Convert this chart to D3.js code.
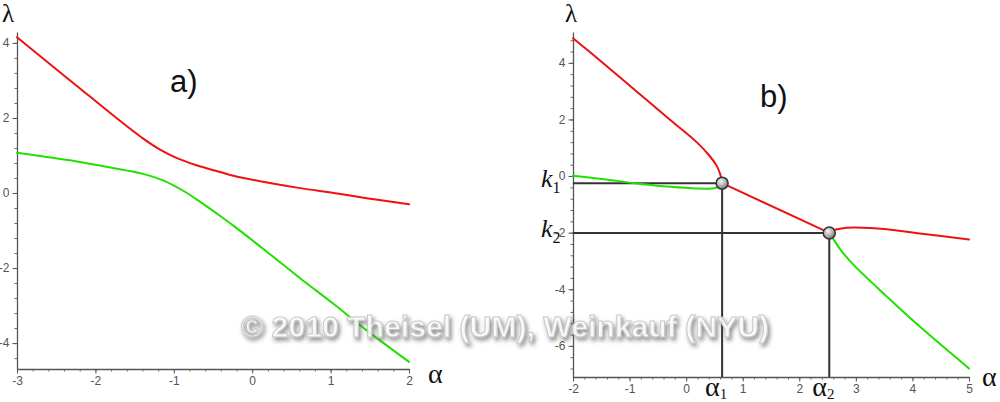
<!DOCTYPE html>
<html><head><meta charset="utf-8">
<script src="https://cdn.jsdelivr.net/npm/d3@7"></script>
<style>
html,body{margin:0;padding:0;background:#fff;}
svg{display:block;}
.tick text{font-family:Arial,"Liberation Sans",sans-serif;font-size:12px;fill:#555;}
</style></head>
<body>
<svg id="chart" width="1000" height="402"></svg>
<script>
// ---------- Panel a data ----------
const aRedAlpha   = [-3, -2.66, -2.24, -1.81, -1.39, -1.17, -0.96, -0.71, -0.41, -0.24, 0.19, 0.61, 1.04, 1.46, 2.0];
const aRedLambda  = [4.15, 3.57, 2.86, 2.13, 1.45, 1.15, 0.93, 0.74, 0.56, 0.46, 0.28, 0.13, 0.0, -0.14, -0.30];
const aGreenAlpha = [-3, -2.66, -2.24, -1.81, -1.39, -1.13, -0.88, -0.71, -0.45, -0.24, 0.19, 0.61, 1.04, 1.46, 2.0];
const aGreenLambda= [1.07, 0.97, 0.84, 0.68, 0.51, 0.33, 0.06, -0.17, -0.55, -0.87, -1.57, -2.27, -2.96, -3.66, -4.50];
const aXTicks = [-3, -2, -1, 0, 1, 2];
const aYTicks = [-4, -2, 0, 2, 4];

// ---------- Panel b data ----------
const bRedLeftAlpha   = [-2, -1.46, -0.87, -0.28, 0.19, 0.42, 0.54, 0.60, 0.636];
const bRedLeftLambda  = [4.87, 3.98, 2.98, 1.98, 1.19, 0.70, 0.36, 0.08, -0.25];
const bRedMidAlpha    = [0.636, 2.53];
const bRedMidLambda   = [-0.25, -2.01];
const bRedRightAlpha  = [2.53, 2.60, 2.72, 2.96, 3.55, 4.13, 5.0];
const bRedRightLambda = [-2.01, -1.92, -1.86, -1.82, -1.88, -2.03, -2.24];
const bGreenLeftAlpha  = [-2, -1.46, -0.87, -0.28, 0.19, 0.45, 0.57, 0.636];
const bGreenLeftLambda = [0.01, -0.11, -0.26, -0.38, -0.44, -0.44, -0.39, -0.25];
const bGreenRightAlpha  = [2.53, 2.60, 2.72, 2.96, 3.55, 4.13, 5.0];
const bGreenRightLambda = [-2.01, -2.22, -2.58, -3.14, -4.26, -5.32, -6.80];
const bPointAlpha  = [0.636, 2.53];
const bPointLambda = [-0.25, -2.01];
const bPointAlphaLabels = ["1", "2"];
const bPointLambdaLabels = ["1", "2"];
const bXTicks = [-2, -1, 0, 1, 2, 3, 4, 5];
const bYTicks = [-6, -4, -2, 0, 2, 4];

const RED = "#ee1111", GREEN = "#22e000";
const svg = d3.select("#chart");

const defs = svg.append("defs");
const grad = defs.append("radialGradient").attr("id","ball").attr("cx","40%").attr("cy","35%").attr("r","65%");
grad.append("stop").attr("offset","0%").attr("stop-color","#f4f4f4");
grad.append("stop").attr("offset","60%").attr("stop-color","#b0b0b0");
grad.append("stop").attr("offset","100%").attr("stop-color","#707070");
const flt = defs.append("filter").attr("id","shadow").attr("x","-10%").attr("y","-30%").attr("width","120%").attr("height","180%");
flt.append("feDropShadow").attr("dx",2).attr("dy",3).attr("stdDeviation",2.2).attr("flood-color","#555").attr("flood-opacity",0.75);

function zip(xs, ys){ return xs.map((x,i)=>[x, ys[i]]); }

function drawAxes(x, y, xTicks, yTicks, xMinorStep, yMinorStep){
  const [x0,x1] = x.domain(), [y0,y1] = y.domain();
  const xMinor = d3.range(Math.ceil(x0/xMinorStep-1e-9)*xMinorStep, x1+1e-9, xMinorStep);
  const yMinor = d3.range(Math.ceil(y0/yMinorStep-1e-9)*yMinorStep, y1+1e-9, yMinorStep);
  const yPix = y.range()[0];
  const xPix = x.range()[0];
  svg.append("g").attr("transform",`translate(0,${yPix})`)
    .call(d3.axisBottom(x).tickValues(xMinor).tickSize(2.5).tickFormat("").tickSizeOuter(0))
    .call(g=>g.select(".domain").remove())
    .call(g=>g.selectAll("line").attr("stroke","#666"));
  svg.append("g").attr("transform",`translate(${xPix},0)`)
    .call(d3.axisLeft(y).tickValues(yMinor).tickSize(2.5).tickFormat("").tickSizeOuter(0))
    .call(g=>g.select(".domain").remove())
    .call(g=>g.selectAll("line").attr("stroke","#666"));
  svg.append("g").attr("transform",`translate(0,${yPix})`)
    .call(d3.axisBottom(x).tickValues(xTicks).tickSize(4.5).tickPadding(3).tickSizeOuter(0).tickFormat(d=>String(d)))
    .call(g=>g.select(".domain").attr("stroke","#555").attr("stroke-width",1.3))
    .call(g=>g.selectAll("line").attr("stroke","#555"));
  svg.append("g").attr("transform",`translate(${xPix},0)`)
    .call(d3.axisLeft(y).tickValues(yTicks).tickSize(4.5).tickPadding(3).tickSizeOuter(0).tickFormat(d=>String(d)))
    .call(g=>g.select(".domain").attr("stroke","#555").attr("stroke-width",1.3))
    .call(g=>g.selectAll("line").attr("stroke","#555"));
}

function curve(x, y, pts, color){
  svg.append("path").datum(pts)
    .attr("fill","none").attr("stroke",color).attr("stroke-width",2)
    .attr("stroke-linejoin","round").attr("stroke-linecap","round")
    .attr("d", d3.line().x(d=>x(d[0])).y(d=>y(d[1])).curve(d3.curveCatmullRom.alpha(0.5)));
}

const serif = "'Liberation Serif','DejaVu Serif',serif";
const sans = "Arial,'Liberation Sans',sans-serif";

// ================= Panel a =================
const xa = d3.scaleLinear().domain([-3, 2]).range([17, 409]);
const ya = d3.scaleLinear().domain([-4.69, 4.29]).range([369, 32]);
drawAxes(xa, ya, aXTicks, aYTicks, 0.2, 0.4);
curve(xa, ya, zip(aRedAlpha, aRedLambda), RED);
curve(xa, ya, zip(aGreenAlpha, aGreenLambda), GREEN);
svg.append("text").attr("x",2).attr("y",22).attr("font-family",serif).attr("font-size",25).attr("fill","#111").text("λ");
svg.append("text").attr("x",428).attr("y",383).attr("font-family",serif).attr("font-size",28).attr("fill","#111").text("α");
svg.append("text").attr("x",170).attr("y",92).attr("font-family",sans).attr("font-size",31).attr("fill","#111").text("a)");

// ================= Panel b =================
const xb = d3.scaleLinear().domain([-2, 5]).range([573, 969]);
const yb = d3.scaleLinear().domain([-7.1, 5.09]).range([377, 32]);
drawAxes(xb, yb, bXTicks, bYTicks, 0.2, 0.4);

const guides = svg.append("g").attr("stroke","#333").attr("stroke-width",2);
bPointAlpha.forEach((a,i)=>{
  guides.append("line").attr("x1",xb(-2)).attr("x2",xb(a)).attr("y1",yb(bPointLambda[i])).attr("y2",yb(bPointLambda[i]));
  guides.append("line").attr("x1",xb(a)).attr("x2",xb(a)).attr("y1",yb(bPointLambda[i])).attr("y2",yb(-7.1));
});

curve(xb, yb, zip(bGreenLeftAlpha, bGreenLeftLambda), GREEN);
curve(xb, yb, zip(bGreenRightAlpha, bGreenRightLambda), GREEN);
curve(xb, yb, zip(bRedLeftAlpha, bRedLeftLambda), RED);
curve(xb, yb, zip(bRedMidAlpha, bRedMidLambda), RED);
curve(xb, yb, zip(bRedRightAlpha, bRedRightLambda), RED);

svg.append("g").selectAll("circle").data(bPointAlpha).join("circle")
  .attr("cx",d=>xb(d)).attr("cy",(d,i)=>yb(bPointLambda[i])).attr("r",6)
  .attr("fill","url(#ball)").attr("stroke","#333").attr("stroke-width",1.5);

svg.append("text").attr("x",565).attr("y",22).attr("font-family",serif).attr("font-size",25).attr("fill","#111").text("λ");
svg.append("text").attr("x",982).attr("y",386).attr("font-family",serif).attr("font-size",28).attr("fill","#111").text("α");
svg.append("text").attr("x",760).attr("y",107).attr("font-family",sans).attr("font-size",31).attr("fill","#111").text("b)");

bPointLambda.forEach((l,i)=>{
  const t = svg.append("text").attr("x",541).attr("y",yb(l)+4).attr("font-family",serif).attr("fill","#111");
  t.append("tspan").attr("font-size",26).attr("font-style","italic").text("k");
  t.append("tspan").attr("font-size",16).attr("dy",6).text(bPointLambdaLabels[i]);
});
bPointAlpha.forEach((a,i)=>{
  const t = svg.append("text").attr("x",xb(a)-17).attr("y",396).attr("font-family",serif).attr("fill","#111");
  t.append("tspan").attr("font-size",28).text("α");
  t.append("tspan").attr("font-size",15).attr("dy",3).text(bPointAlphaLabels[i]);
});

svg.append("text").attr("x",241).attr("y",337)
  .attr("font-family",sans).attr("font-weight","bold").attr("font-size",30)
  .attr("textLength",528).attr("lengthAdjust","spacingAndGlyphs")
  .attr("fill","#ffffff").attr("fill-opacity",0.85).attr("stroke","#c8c8c8").attr("stroke-width",1)
  .attr("filter","url(#shadow)")
  .text("© 2010 Theisel (UM), Weinkauf (NYU)");
</script>
</body></html>
